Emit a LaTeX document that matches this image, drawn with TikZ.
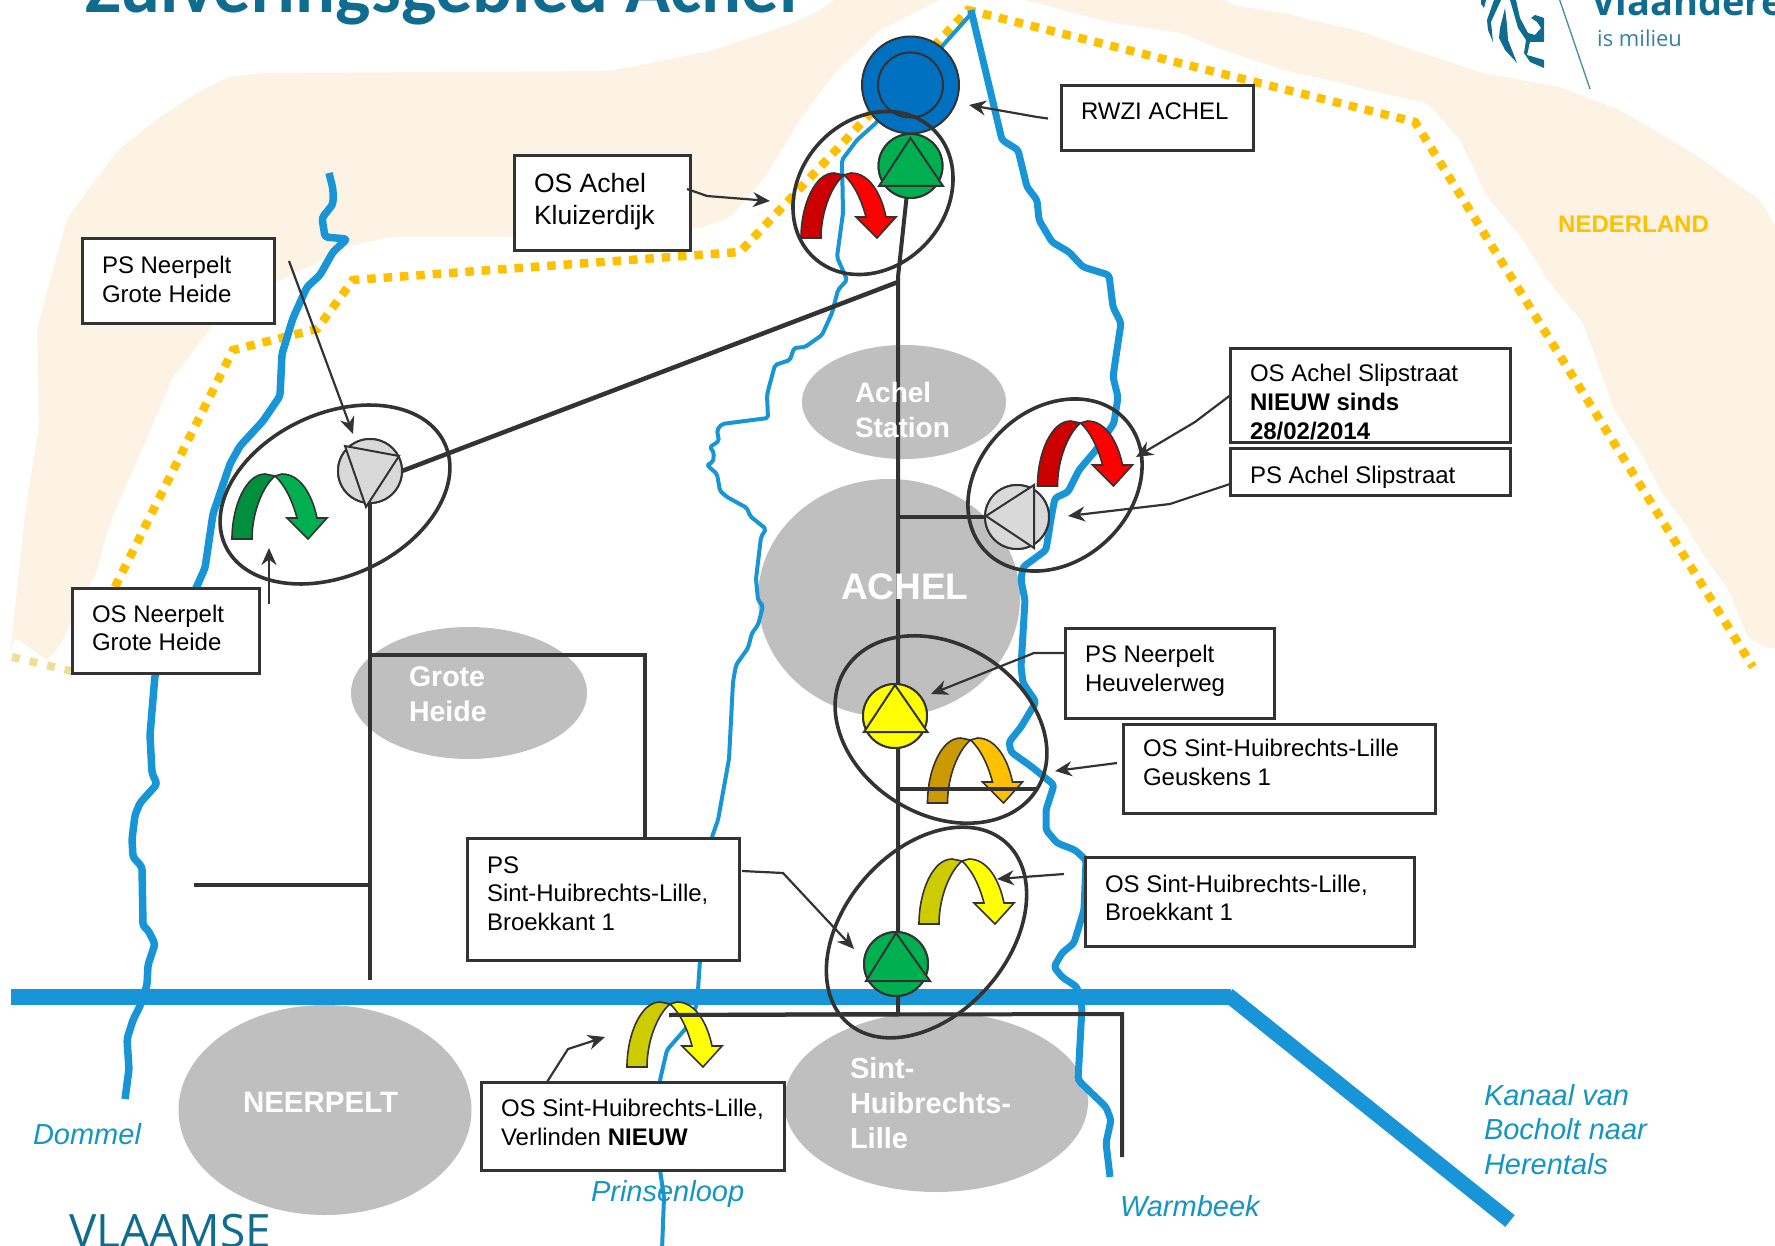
\documentclass[tikz,border=0pt]{standalone}
\usepackage{fontspec}
\usetikzlibrary{arrows.meta,shapes.geometric}
\setmainfont{Liberation Sans}
\newfontfamily\carlfont{Carlito}
\newfontfamily\opensfont{Open Sans}
\definecolor{land}{HTML}{FDF3E4}
\definecolor{borderc}{HTML}{FFC000}
\definecolor{paleb}{HTML}{EEDF96}
\definecolor{riverc}{HTML}{1795D7}
\definecolor{rivertext}{HTML}{1595C3}
\definecolor{darkl}{HTML}{333333}
\definecolor{areac}{HTML}{BFBFBF}
\definecolor{brandc}{HTML}{106C8F}
\definecolor{rwzic}{HTML}{0070C0}
\definecolor{pgreen}{HTML}{00B050}
\definecolor{pgray}{HTML}{D9D9D9}
\definecolor{pyellow}{HTML}{FFFF00}
\definecolor{darkgreen}{HTML}{008F3E}
\definecolor{darkred}{HTML}{CC0000}
\definecolor{lightred}{HTML}{FF0000}
\definecolor{darkorange}{HTML}{CC9900}
\definecolor{darkyellow}{HTML}{CCCC00}
\newcommand{\fsz}[2]{\fontsize{#1pt}{#2pt}\selectfont}
\tikzset{
  areashape/.style={ellipse,fill=areac,draw=none,inner sep=0,outer sep=0},
  areatext/.style={anchor=base west,inner sep=0,outer sep=0,text=white,align=left},
  rivertxt/.style={anchor=base west,inner sep=0,outer sep=0,text=rivertext,align=left},
  thickriver/.style={draw=riverc,line width=7.5pt,rounded corners=3pt,line join=round},
  thinriver/.style={draw=riverc,line width=4pt,rounded corners=2pt,line join=round},
  canal/.style={draw=riverc,line width=16pt},
  pipe/.style={draw=darkl,line width=4pt},
  ring/.style={draw=darkl,line width=3.6pt,fill=none},
  pump/.style={circle,draw=darkl,line width=2pt,inner sep=0,outer sep=0,minimum size=64pt},
  tri/.style={draw=darkl,line width=2pt,line join=miter},
  callout/.style={draw=darkl,line width=2.2pt,-{Stealth[length=17pt,width=15pt]}},
  tb/.style={draw=darkl,line width=3pt,fill=white,inner sep=0,outer sep=0,anchor=north west},
  borderline/.style={line width=8.5pt,dash pattern=on 8.5pt off 7.9pt,draw=borderc},
}
% name, x, y, w, h, first baseline offset, size, leading, text
\newcommand{\tbox}[9]{%
  \node[tb,minimum width=#4pt,minimum height=#5pt] (#1) at (#2,#3)
  {\parbox[c][#5pt][t]{#4pt}{\fsz{#7}{#8}\raggedright\leftskip=20pt\relax
   \vspace*{\dimexpr#6pt-19pt\relax}\rule{0pt}{20pt}#9}};}
% x, y, dark, light
\newcommand{\uturn}[4]{%
  \begin{scope}[shift={(#1,#2)}]
    \draw[darkl,line width=1.6pt,fill=#3] (0,65) .. controls (0,32) and (14,0) .. (33,0)
       -- (43,2) .. controls (31,12) and (20,38) .. (20,65) -- cycle;
    \draw[darkl,line width=1.6pt,fill=#4] (43,2) -- (50,0) .. controls (68,0) and (80,20) .. (85,44)
       -- (95,44) -- (76,65) -- (55,44) -- (65,44) .. controls (60,25) and (52,10) .. (43,2) -- cycle;
  \end{scope}}
% cx, cy, a, b, angle
\newcommand{\tiltring}[5]{%
  \begin{scope}[shift={(#1,#2)},rotate=#5]
    \draw[ring] (0,0) ellipse [x radius=#3,y radius=#4];
  \end{scope}}
\begin{document}
\begin{tikzpicture}[x=1pt,y=-1pt]
\useasboundingbox (0,0) rectangle (1775,1246);
\clip (0,0) rectangle (1775,1246);
% land
\fill[land,rounded corners=5pt] (118,150) -- (157,119) -- (198,92) -- (228,77) -- (264,73) -- (606,71) -- (637,66) -- (713,50) -- (764,33) -- (795,22) -- (815,13) -- (840,-3)
 -- (945,-3) -- (930,5) -- (880,30) -- (860,50) -- (840,67) -- (820,93) -- (800,120) -- (765,177) -- (731,217) -- (700,228) -- (606,234) -- (500,237) -- (390,237) -- (350,246) -- (277,282) -- (213,325) -- (172,379) -- (145,443) -- (115,511) -- (107,532) -- (97,571) -- (60,646) -- (47,661) -- (15,637) -- (10,654) -- (25,514) -- (39,425) -- (37,329) -- (67,218) -- cycle;
\fill[land,rounded corners=5pt] (1013,-3) -- (1073,13) -- (1113,23) -- (1180,33) -- (1223,50) -- (1283,70) -- (1340,83) -- (1367,90) -- (1427,103) -- (1460,140) -- (1487,197) -- (1523,240) -- (1547,280) -- (1583,323) -- (1595,357) -- (1613,407) -- (1643,457) -- (1663,495) -- (1687,527) -- (1700,550) -- (1730,593) -- (1748,638) -- (1770,649) -- (1780,647)
 -- (1780,233) -- (1760,200) -- (1693,153) -- (1620,110) -- (1560,87) -- (1483,73) -- (1413,50) -- (1363,32) -- (1283,13) -- (1233,5) -- (1220,-3) -- cycle;
% border
\draw[line width=8pt,dash pattern=on 8pt off 10pt,draw=paleb] (12,657) -- (75,672);
\draw[borderline] (115,587) -- (233,350) -- (317,329) -- (353,280) -- (740,252) -- (968,10) -- (1295,92) -- (1415,122) -- (1753,667);
% title and logo
\node[anchor=base west,inner sep=0,text=brandc,font=\carlfont\bfseries\fsz{74.5}{78}] (title) at (85,13) {Zuiveringsgebied Achel};
\node[anchor=base west,inner sep=0,text=brandc,font=\opensfont\fsz{46}{48}] (vlaamse) at (69,1247) {VLAAMSE};
\node[anchor=base west,inner sep=0,text=brandc,font=\opensfont\bfseries\fsz{38}{42}] (vlaanderen) at (1591,16) {Vlaanderen};
\node[anchor=base west,inner sep=0,text=brandc!85!white,font=\opensfont\fsz{22}{24}] (milieu) at (1597,47) {is milieu};
\draw[brandc!75!white,line width=1.4pt] (1559,-2) -- (1590,89);
\fill[brandc] (1481,0) -- (1486,0) -- (1484,8) -- (1481,4) -- cycle;
\fill[brandc] (1494,0) -- (1501,0) -- (1491,22) -- (1493,42) -- (1488,30) -- (1487,20) -- cycle;
\fill[brandc] (1505,8) -- (1507,25) -- (1508,40) -- (1517,63) -- (1505,50) -- (1499,38) -- (1500,28) -- cycle;
\fill[brandc] (1510,0) -- (1516,0) -- (1520,18) -- (1528,33) -- (1535,35) -- (1541,28) -- (1537,22) -- (1531,18) -- (1535,15) -- (1544,18) -- (1544,42) -- (1530,42) -- (1527,55) -- (1544,60) -- (1544,68) -- (1530,62) -- (1524,53) -- (1526,40) -- (1518,28) -- cycle;
% urban areas
\node[areashape,minimum width=204pt,minimum height=114pt] (aStation) at (904,402) {};
\node[areashape,minimum width=262pt,minimum height=238pt] (aAchel) at (889,598) {};
\node[areashape,minimum width=236pt,minimum height=132pt] (aGrote) at (469,693) {};
\node[areashape,minimum width=293pt,minimum height=210pt] (aNeerpelt) at (325,1110) {};
\node[areashape,minimum width=304pt,minimum height=180pt] (aSint) at (936,1102) {};
% rivers
\draw[canal] (11,997) -- (1231,997);
\draw[canal,line width=15pt] (1228,995) -- (1510,1221);
% Dommel
\draw[thickriver] (329,173) -- (333,189) -- (333,204) -- (322,218) -- (325,237) -- (347,239) -- (333,252) -- (320,275) -- (307,287) -- (293,318) -- (282,354) -- (280,396) -- (263,421) -- (240,446) -- (230,464) -- (213,514) -- (205,568) -- (197,586) -- (155,675) -- (150,735) -- (152,773) -- (157,784) -- (140,803) -- (135,815) -- (132,839) -- (133,857) -- (142,867) -- (143,926) -- (148,930) -- (155,944) -- (148,965) -- (147,985) -- (140,1006) -- (133,1020) -- (127,1039) -- (129,1069) -- (125,1099);
% Warmbeek
\draw[thickriver,line width=7pt] (971,10) -- (1002,140) -- (1018,150) -- (1027,187) -- (1037,200) -- (1039,220) -- (1052,242) -- (1069,252) -- (1083,267) -- (1109,275) -- (1113,307) -- (1121,323) -- (1115,363) -- (1113,377) -- (1118,397) -- (1114,423) -- (1096,450) -- (1079,470) -- (1068,492) -- (1055,498) -- (1052,513) -- (1046,550) -- (1023,567) -- (1021,580) -- (1025,600) -- (1021,667) -- (1023,683) -- (1036,702) -- (1021,727) -- (1009,742) -- (1011,752) -- (1032,767) -- (1054,785) -- (1046,810) -- (1046,830) -- (1057,843) -- (1075,850) -- (1086,860) -- (1084,910) -- (1074,943) -- (1062,953) -- (1054,967) -- (1062,977) -- (1077,987) -- (1082,1007) -- (1078,1080) -- (1106,1107) -- (1111,1120) -- (1106,1143) -- (1110,1177);
% Prinsenloop
\draw[thinriver] (971,14) -- (945,43) -- (876,123) -- (857,140) -- (842,160) -- (843,213) -- (837,257) -- (847,280) -- (838,290) -- (832,313) -- (822,335) -- (805,347) -- (794,348) -- (790,360) -- (775,365) -- (769,387) -- (767,395) -- (768,418) -- (722,424) -- (717,430) -- (719,441) -- (710,447) -- (714,453) -- (713,462) -- (707,465) -- (717,474) -- (720,491) -- (727,497) -- (747,508) -- (750,516) -- (766,529) -- (761,537) -- (756,579) -- (758,600) -- (763,606) -- (758,625) -- (752,633) -- (748,648) -- (736,665) -- (733,682) -- (729,759) -- (727,770) -- (718,820) -- (712,837) -- (700,960) -- (698,990) -- (696,1007) -- (687,1027) -- (667,1050) -- (660,1080) -- (660,1170) -- (664,1197) -- (662,1250);
% RWZI
\node[circle,draw=darkl,line width=2pt,fill=rwzic,inner sep=0,outer sep=0,minimum size=97pt] (rwziC) at (910.5,85) {};
\node[circle,draw=darkl,line width=2pt,inner sep=0,outer sep=0,minimum size=65pt] (rwziI) at (910.5,85) {};
% rings
\tiltring{873}{193}{87.6}{73.3}{48}
\tiltring{335}{494.5}{121}{81}{25}
\tiltring{1055}{485}{96}{76}{43.5}
\tiltring{941}{729.5}{113}{85}{-32}
\tiltring{926.5}{932.5}{120}{82}{49}
% junctions of the sewer network
\coordinate (jTop) at (898,277);
\coordinate (jDiag) at (898,282);
\coordinate (jSlip) at (898,517);
\coordinate (jGeus) at (898,789);
\coordinate (jBot) at (898,1014);
\coordinate (endGeus) at (1037,789);
\coordinate (hWest) at (669,1015);
\coordinate (hEast) at (1122,1014);
\coordinate (hEnd) at (1122,1157);
\coordinate (vGrote) at (370,980);
\coordinate (jGrote) at (370,655);
\coordinate (jWest) at (370,885);
\coordinate (endWest) at (194,885);
\coordinate (cornerGrote) at (645,655);
% pumps
\node[pump,fill=pgreen] (pKluis) at (910.5,166) {};
\node[pump,fill=pgray] (pGrote) at (370,471) {};
\node[pump,fill=pgray] (pSlip) at (1017,517) {};
\node[pump,fill=pyellow] (pHeuv) at (895,716) {};
\node[pump,fill=pgreen] (pBroek) at (896,964) {};
% text boxes
\tbox{rwzi}{1061}{86}{192}{65}{33}{24}{28.6}{RWZI ACHEL}
\tbox{kl}{514}{156}{176}{95}{36}{26.5}{32}{OS Achel\\Kluizerdijk}
\tbox{pg}{82}{239}{192}{85}{34}{24}{28.6}{PS Neerpelt\\Grote Heide}
\tbox{og}{72}{588}{187}{85}{33}{24}{28.6}{OS Neerpelt\\Grote Heide}
\tbox{oa}{1230}{349}{280}{93}{32}{24}{29}{OS Achel Slipstraat\\\textbf{NIEUW sinds}\\\textbf{28/02/2014}}
\tbox{pa}{1230}{448}{280}{47}{34}{24}{29}{PS Achel Slipstraat}
\tbox{ph}{1065}{628}{209}{90}{33}{24}{29}{PS Neerpelt\\Heuvelerweg}
\tbox{ge}{1123}{724}{312}{89}{31}{24}{29.5}{OS Sint-Huibrechts-Lille\\Geuskens 1}
\tbox{ob}{1085}{857}{329}{89}{34}{24}{28.6}{OS Sint-Huibrechts-Lille,\\Broekkant 1}
\tbox{pb}{467}{838}{272}{122}{34}{24}{28.6}{PS\\Sint-Huibrechts-Lille,\\Broekkant 1}
\tbox{ve}{481}{1082}{303}{88}{33}{24}{29}{OS Sint-Huibrechts-Lille,\\Verlinden \textbf{NIEUW}}
% pipes
\draw[pipe] ([xshift=-4pt]pKluis.south) -- (jTop) -- (jBot);
\draw[pipe,line width=4.5pt] (jDiag) -- (pGrote.east);
\draw[pipe] (pGrote.south) -- (vGrote);
\draw[pipe] (jWest) -- (endWest);
\draw[pipe] (jGrote) -- (cornerGrote) -- ([xshift=178pt]pb.north west);
\draw[pipe] (jSlip) -- (pSlip.west);
\draw[pipe] (hWest) -- (hEast) -- (hEnd);
% pumps redrawn over pipes
\node[pump,fill=pgreen] at (pKluis) {};
\node[pump,fill=pgray] at (pGrote) {};
\node[pump,fill=pgray] at (pSlip) {};
\node[pump,fill=pyellow] at (pHeuv) {};
\node[pump,fill=pgreen] at (pBroek) {};
\draw[tri,fill=pgreen] (910.5,138) -- (943,186) -- (879,186) -- cycle;
\draw[tri,fill=pgray] (345,446) -- (399,456) -- (366,507) -- cycle;
\draw[tri,fill=pgray] (986,516) -- (1034,485) -- (1034,548) -- cycle;
\draw[tri,fill=pyellow] (895,685) -- (927.5,732) -- (864,732) -- cycle;
\draw[tri,fill=pgreen] (896,933) -- (930,981) -- (866,981) -- cycle;
% u-turn arrows
\uturn{801}{173}{darkred}{lightred}
\uturn{232}{474}{darkgreen}{pgreen}
\uturn{1037.5}{421}{darkred}{lightred}
\uturn{927.5}{738}{darkorange}{borderc}
\uturn{919}{859}{darkyellow}{pyellow}
\uturn{627}{1002}{darkyellow}{pyellow}
\draw[pipe] (jGeus) -- (endGeus);
\draw[pipe] (hWest) -- (jBot);
% callouts
\coordinate (tRwzi) at (969,105);
\coordinate (tKl) at (770,201);
\coordinate (tPg) at (353,434);
\coordinate (tOg) at (269,548);
\coordinate (tOa) at (1136,457);
\coordinate (tPa) at (1068,516);
\coordinate (tPh) at (931,694);
\coordinate (tGe) at (1055,771);
\coordinate (tOb) at (997,879);
\coordinate (tPb) at (854,949);
\coordinate (tVe) at (605,1037);
\draw[callout] ([shift={(-13,0)}]rwzi.west) -- (1037,117) -- (tRwzi);
\draw[callout] ([shift={(-3,-14.5)}]kl.east) -- (707,196) -- (tKl);
\draw[callout] ([shift={(15,-20.5)}]pg.east) -- (tPg);
\draw[callout] ([shift={(10,16)}]og.north east) -- (tOg);
\draw[callout] (oa.west) -- (1195,422) -- (tOa);
\draw[callout] ([shift={(0,12.5)}]pa.west) -- (1170,504) -- (tPa);
\draw[callout] ([shift={(0,-20)}]ph.west) -- (1034,653) -- (tPh);
\draw[callout] ([shift={(-6,-5.5)}]ge.west) -- (tGe);
\draw[callout] ([shift={(-21,-27.5)}]ob.west) -- (tOb);
\draw[callout] ([shift={(3,33)}]pb.north east) -- (783,873) -- (tPb);
\draw[callout] ([shift={(66,0)}]ve.north west) -- (568,1049) -- (tVe);
% area labels (a multi-line node has its base on its last line)
\node[areatext,font=\bfseries\fsz{28}{34.5}] (lStation) at (855,437) {Achel\\Station};
\node[areatext,font=\bfseries\fsz{37}{40}] (lAchel) at (841,599) {ACHEL};
\node[areatext,font=\bfseries\fsz{28.5}{35}] (lGrote) at (409,721) {Grote\\Heide};
\node[areatext,font=\bfseries\fsz{29.5}{35}] (lNeerpelt) at (243,1112) {NEERPELT};
\node[areatext,font=\bfseries\fsz{29}{35}] (lSint) at (850,1148) {Sint-\\Huibrechts-\\Lille};
% river labels
\node[rivertxt,font=\itshape\fsz{29}{34.5}] (lDommel) at (33,1144) {Dommel};
\node[rivertxt,font=\itshape\fsz{29}{34.5}] (lPrinsen) at (591,1201) {Prinsenloop};
\node[rivertxt,font=\itshape\fsz{29}{34.5}] (lWarm) at (1120,1216) {Warmbeek};
\node[rivertxt,font=\itshape\fsz{29}{34.5}] (lKanaal) at (1484,1174) {Kanaal van\\Bocholt naar\\Herentals};
\node[anchor=base west,inner sep=0,text=borderc,font=\bfseries\fsz{24}{28}] (lNed) at (1558,233) {NEDERLAND};
\end{tikzpicture}
\end{document}
